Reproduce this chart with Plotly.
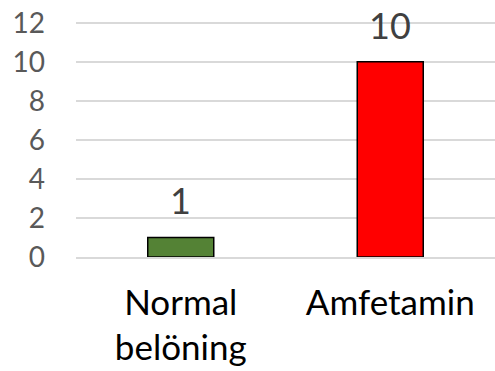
import plotly.graph_objects as go

categories = ["Normal<br>belöning", "Amfetamin"]
values = [1, 10]
colors = ["#548235", "#FF0000"]
y_ticks = [0, 2, 4, 6, 8, 10, 12]

FONT = "Lato"

fig = go.Figure()
fig.add_trace(go.Bar(
    x=categories, y=values,
    marker=dict(color=colors, line=dict(color="black", width=1.5)),
    width=0.315,
    hoverinfo="skip",
))

for c, v in zip(categories, values):
    fig.add_annotation(x=c, y=v, text=str(v), showarrow=False,
                       yanchor="bottom", yshift=13,
                       font=dict(family=FONT, size=36, color="#404040"))

fig.update_layout(
    width=495, height=371,
    margin=dict(l=76, r=0, t=13, b=114),
    paper_bgcolor="white", plot_bgcolor="white",
    showlegend=False,
    font=dict(family=FONT),
)
fig.update_yaxes(range=[0, 12.5], tickvals=y_ticks, showgrid=True,
                 gridcolor="#D9D9D9", gridwidth=1.5, zeroline=False,
                 showline=False, ticks="", ticklabelstandoff=30,
                 automargin=False, ticklabeloverflow="allow",
                 tickfont=dict(family=FONT, size=28, color="#595959"))
fig.update_xaxes(showline=True, linecolor="#D9D9D9", linewidth=1.5,
                 ticks="", ticklabelstandoff=14, automargin=False,
                 tickfont=dict(family=FONT, size=35, color="black"))

fig.write_html("out.html", config={"displayModeBar": False},
               post_script="document.body.style.margin='0';document.body.style.padding='0';")
